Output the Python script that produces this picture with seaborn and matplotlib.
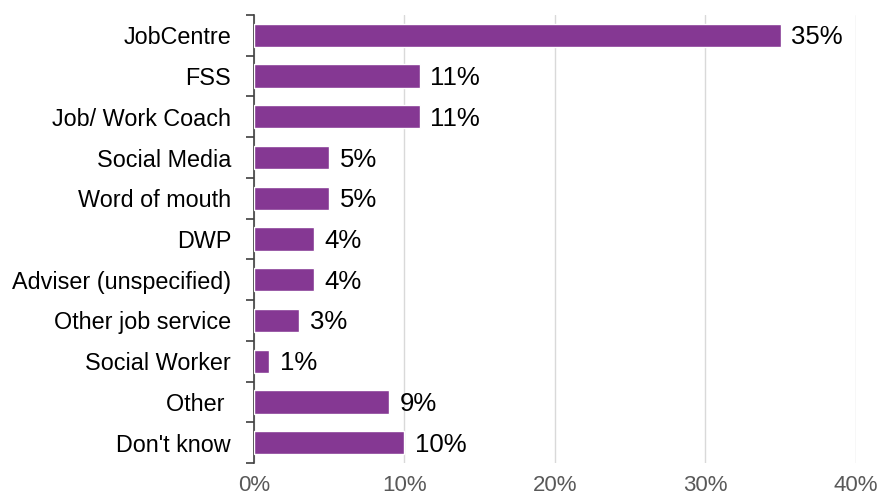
import matplotlib
matplotlib.use("Agg")
import matplotlib.pyplot as plt
from matplotlib.ticker import FixedLocator, PercentFormatter
import seaborn as sns
import pandas as pd

categories = ["JobCentre", "FSS", "Job/ Work Coach", "Social Media", "Word of mouth",
              "DWP", "Adviser (unspecified)", "Other job service", "Social Worker",
              "Other ", "Don't know"]
values = [35, 11, 11, 5, 5, 4, 4, 3, 1, 9, 10]
x_ticks = [0, 10, 20, 30, 40]

df = pd.DataFrame({"source": categories, "pct": values})

sns.set_style("white")
plt.rcParams["font.family"] = ["Liberation Sans", "DejaVu Sans"]

fig = plt.figure(figsize=(8.8, 4.98), dpi=100)
ax = fig.add_axes([0.2886, 0.0703, 0.9727 - 0.2886, 0.9699 - 0.0703])

sns.barplot(data=df, x="pct", y="source", orient="h", color="#853893",
            saturation=1, width=0.57, ax=ax, zorder=3)

ax.set_xlim(0, 40)
ax.set_ylim(len(categories) - 0.5, -0.5)
ax.xaxis.set_major_locator(FixedLocator(x_ticks))
ax.xaxis.set_major_formatter(PercentFormatter(decimals=0))
ax.grid(axis="x", color="#d9d9d9", linewidth=1, zorder=0)
ax.tick_params(axis="x", length=0, labelsize=16, labelcolor="#595959", pad=9)

# category boundary ticks on the y axis, labels centred on bars
ax.set_yticks([i - 0.5 for i in range(len(categories) + 1)], minor=True)
ax.tick_params(axis="y", which="major", left=True, length=0, labelsize=16.8,
               labelcolor="black", pad=16.5)
ax.tick_params(axis="y", which="minor", left=True, length=6, width=1.2,
               color="#404040", direction="out")

for s in ["top", "right", "bottom"]:
    ax.spines[s].set_visible(False)
ax.spines["left"].set_color("#404040")
ax.spines["left"].set_linewidth(1.2)
ax.set_xlabel("")
ax.set_ylabel("")

for i, v in enumerate(values):
    ax.text(v + 0.7, i + 0.05, f"{v}%", va="center", ha="left", fontsize=18.5, color="black")

fig.savefig("out.png", dpi=100)
